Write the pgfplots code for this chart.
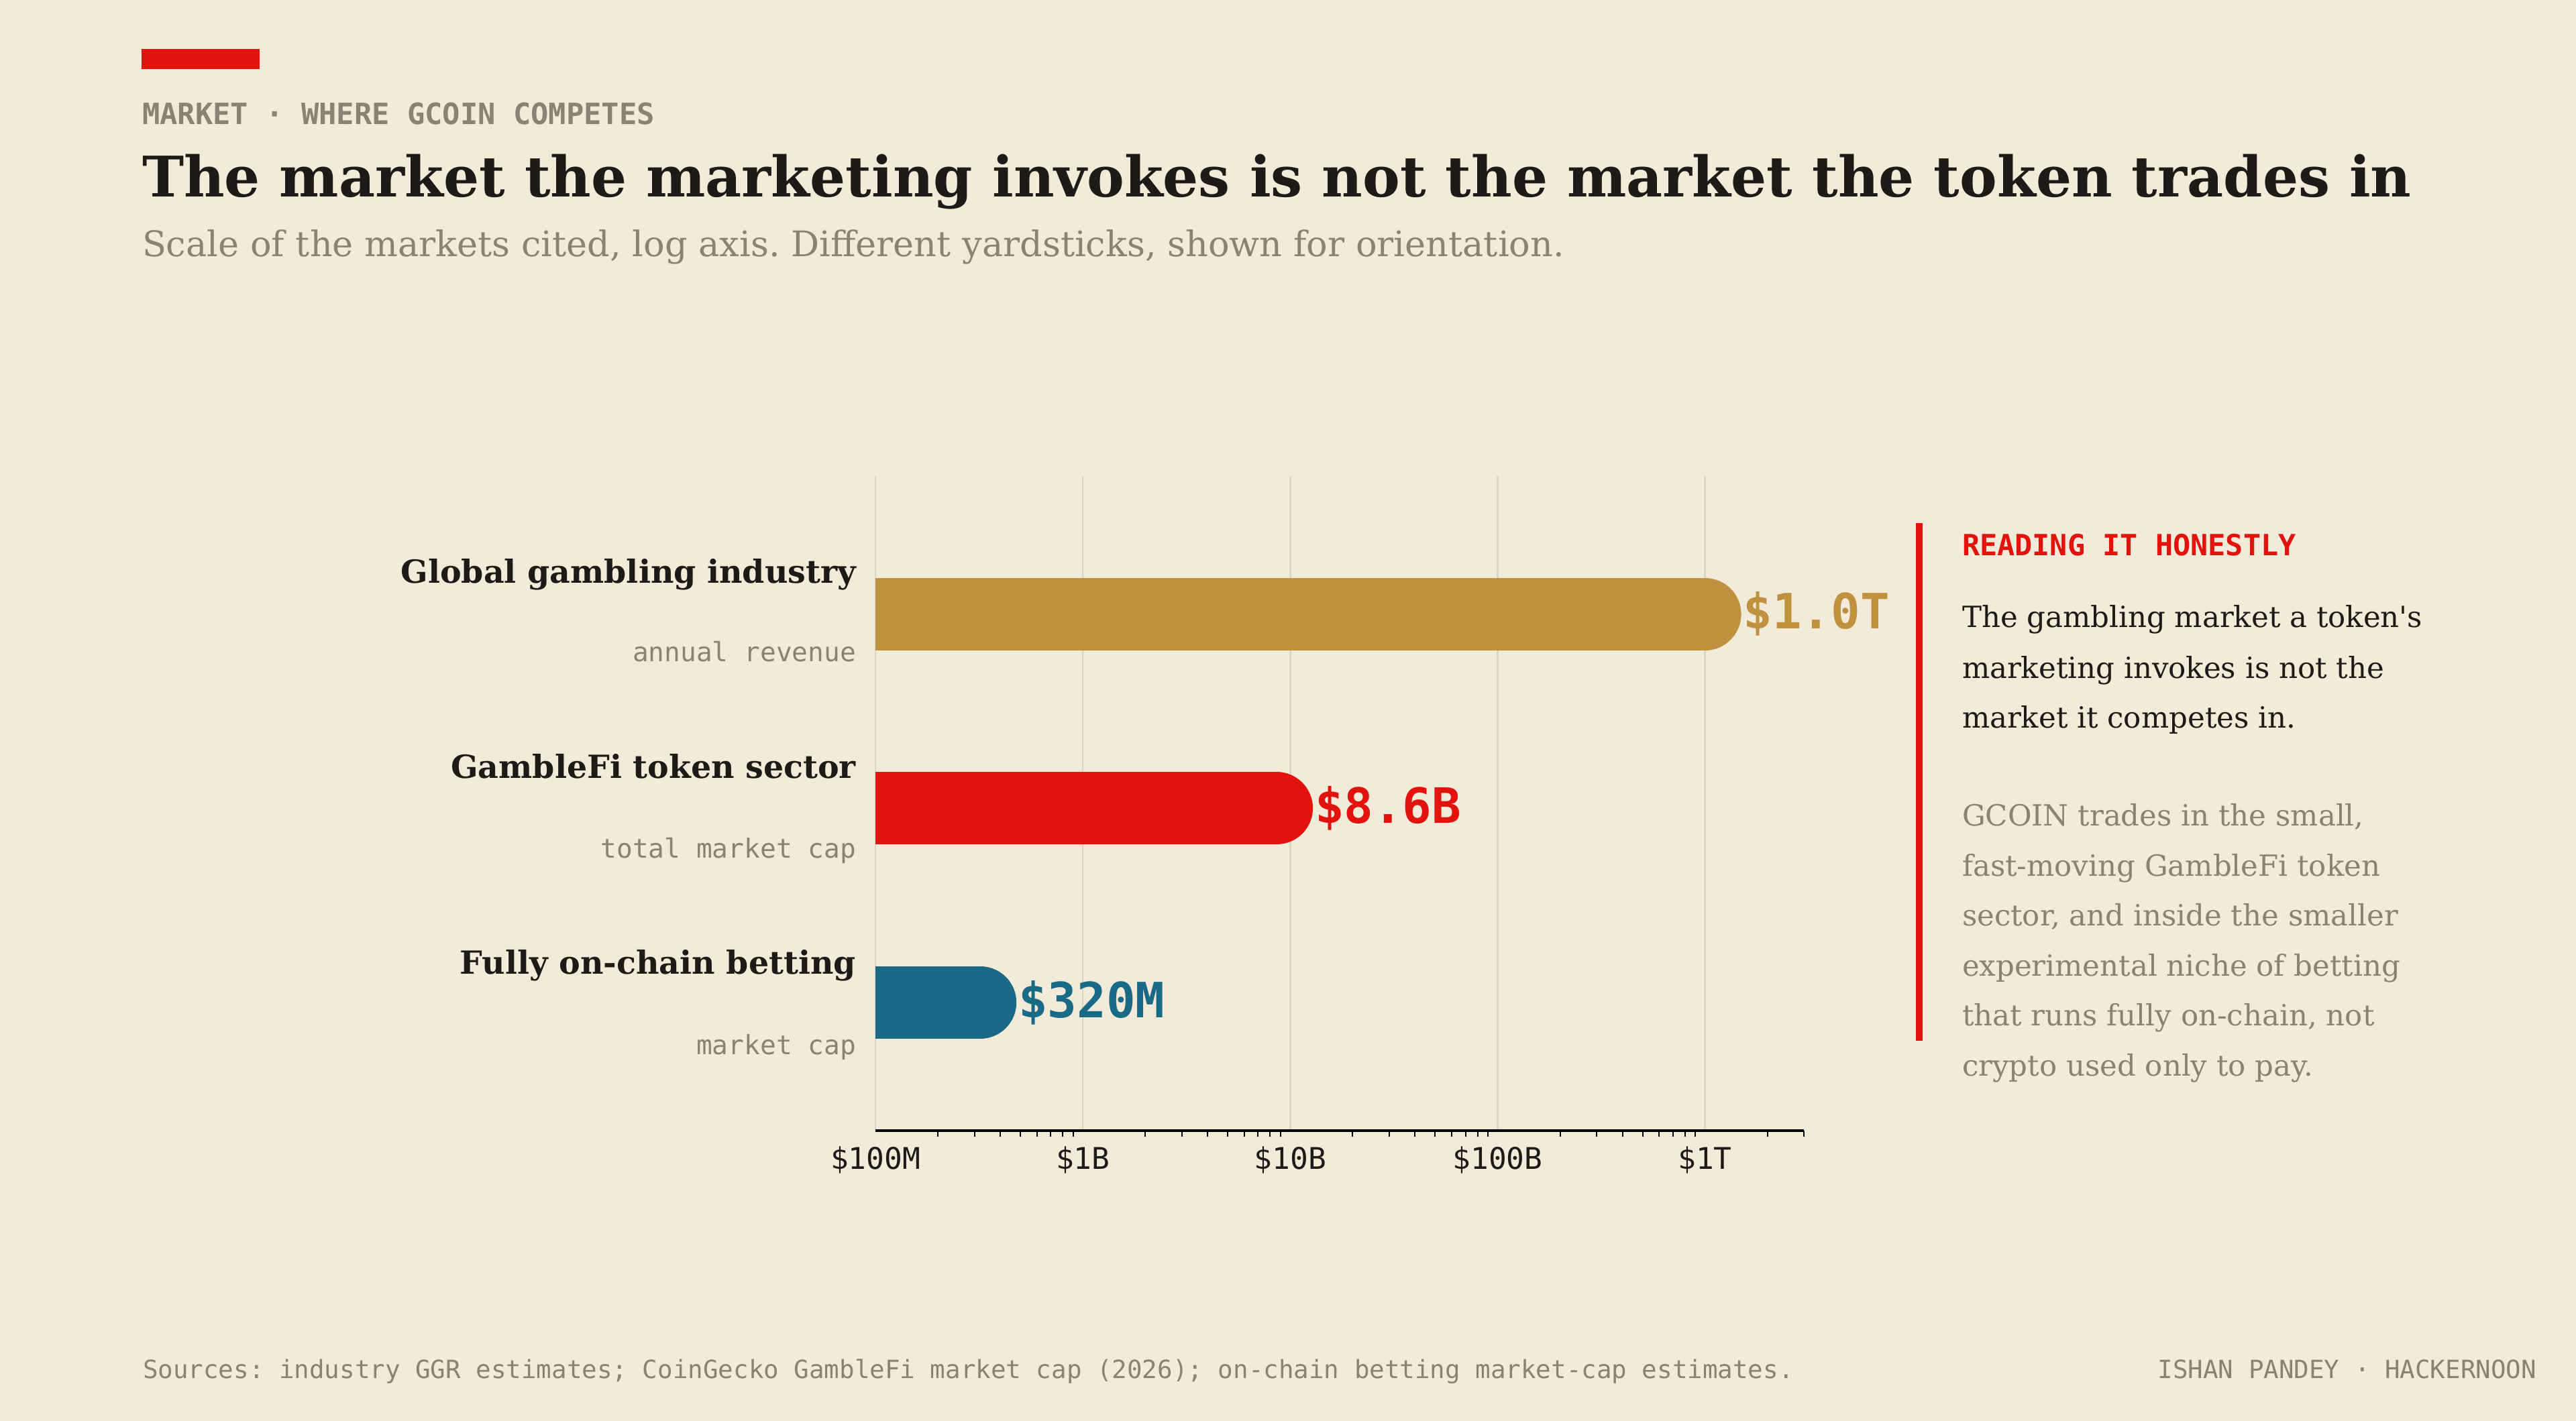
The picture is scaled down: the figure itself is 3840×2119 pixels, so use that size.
\documentclass[border=0pt]{standalone}
\usepackage{pgfplots}
\pgfplotsset{compat=1.18}
\usepackage{fontspec}
\setmainfont{DejaVu Serif}
\newfontfamily\mono{DejaVu Sans Mono}

\definecolor{bg}{HTML}{F3EBDA}
\definecolor{ink}{HTML}{1F1A16}
\definecolor{muted}{HTML}{8C8274}
\definecolor{gridc}{HTML}{DCD4C4}
\definecolor{accent}{HTML}{E2120C}
\definecolor{gold}{HTML}{C0913F}
\definecolor{teal}{HTML}{186A86}

\newcommand{\fs}[1]{\fontsize{#1}{#1}\selectfont}
\frenchspacing

\begin{document}
\begin{tikzpicture}[x=0.2pt,y=-0.2pt]
% canvas (1 unit = one pixel of the 3840 x 2119 layout)
\fill[bg] (0,0) rectangle (3840,2119);
\path[use as bounding box] (0,0) rectangle (3840,2119);

% header
\fill[accent] (211,73) rectangle (387,103);
\node[anchor=base west, inner sep=0pt, text=muted, font=\mono\bfseries\fs{8.75}] at (211,185)
  {MARKET · WHERE GCOIN COMPETES};
\node[anchor=base west, inner sep=0pt, text=ink, font=\bfseries\fs{16.7}] at (211,293)
  {The market the marketing invokes is not the market the token trades in};
\node[anchor=base west, inner sep=0pt, text=muted, font=\fs{10.5}] at (211,382)
  {Scale of the markets cited, log axis. Different yardsticks, shown for orientation.};

% chart
\begin{axis}[
  at={(261pt,-337.2pt)}, anchor=south west,
  scale only axis, width=276.8pt, height=195.2pt,
  xmode=log, xmin=1e8, xmax=3e12,
  ymin=0.34, ymax=3.71,
  axis x line*=bottom, axis y line=none,
  x axis line style={draw=black, line width=0.8pt},
  xtick={1e8,1e9,1e10,1e11,1e12},
  xticklabels={\$100M,\$1B,\$10B,\$100B,\$1T},
  minor xtick={2e8,3e8,4e8,5e8,6e8,7e8,8e8,9e8,
               2e9,3e9,4e9,5e9,6e9,7e9,8e9,9e9,
               2e10,3e10,4e10,5e10,6e10,7e10,8e10,9e10,
               2e11,3e11,4e11,5e11,6e11,7e11,8e11,9e11,
               2e12,3e12},
  xmajorgrids,
  major grid style={draw=gridc, line width=0.5pt},
  tick align=outside,
  major tick length=0pt, minor tick length=1.7pt,
  minor tick style={draw=black, line width=0.4pt},
  xticklabel style={font=\mono\fs{8.9}, text=ink, yshift=-1.2pt},
  ytick=\empty,
  clip=true,
]
\addplot[draw=gold, line width=21.6pt, line cap=round] coordinates {(1e8,3) (1.0e12,3)};
\addplot[draw=accent, line width=21.6pt, line cap=round] coordinates {(1e8,2) (8.6e9,2)};
\addplot[draw=teal, line width=21.6pt, line cap=round] coordinates {(1e8,1) (3.2e8,1)};
\coordinate (v3) at (axis cs:1.0e12,3);
\coordinate (v2) at (axis cs:8.6e9,2);
\coordinate (v1) at (axis cs:3.2e8,1);
\end{axis}

% value labels, just past the rounded bar ends
\node[anchor=west, inner sep=0pt, text=gold, font=\mono\bfseries\fs{14.5}] at ([xshift=11.2pt]v3) {\$1.0T};
\node[anchor=west, inner sep=0pt, text=accent, font=\mono\bfseries\fs{14.5}] at ([xshift=11.2pt]v2) {\$8.6B};
\node[anchor=west, inner sep=0pt, text=teal, font=\mono\bfseries\fs{14.5}] at ([xshift=11.2pt]v1) {\$320M};

% category labels
\node[anchor=base east, inner sep=0pt, text=ink, font=\bfseries\fs{9.5}] at (1277,869) {Global gambling industry};
\node[anchor=base east, inner sep=0pt, text=muted, font=\mono\fs{7.9}] at (1277,986) {annual revenue};
\node[anchor=base east, inner sep=0pt, text=ink, font=\bfseries\fs{9.5}] at (1277,1160) {GambleFi token sector};
\node[anchor=base east, inner sep=0pt, text=muted, font=\mono\fs{7.9}] at (1277,1279) {total market cap};
\node[anchor=base east, inner sep=0pt, text=ink, font=\bfseries\fs{9.5}] at (1277,1452) {Fully on-chain betting};
\node[anchor=base east, inner sep=0pt, text=muted, font=\mono\fs{7.9}] at (1277,1572) {market cap};

% side note
\fill[accent] (2856,780) rectangle (2866,1552);
\node[anchor=base west, inner sep=0pt, text=accent, font=\mono\bfseries\fs{8.7}] at (2924,828) {READING IT HONESTLY};
\begin{scope}[every node/.style={anchor=base west, inner sep=0pt, font=\fs{8.7}}]
\node[text=ink] at (2924,935) {The gambling market a token\textquotesingle s};
\node[text=ink] at (2924,1011) {marketing invokes is not the};
\node[text=ink] at (2924,1085) {market it competes in.};
\node[text=muted] at (2924,1231) {GCOIN trades in the small,};
\node[text=muted] at (2924,1306) {fast-moving GambleFi token};
\node[text=muted] at (2924,1380) {sector, and inside the smaller};
\node[text=muted] at (2924,1455) {experimental niche of betting};
\node[text=muted] at (2924,1529) {that runs fully on-chain, not};
\node[text=muted] at (2924,1604) {crypto used only to pay.};
\end{scope}

% footer
\node[anchor=base west, inner sep=0pt, text=muted, font=\mono\fs{7.5}] at (212,2055)
  {Sources: industry GGR estimates; CoinGecko GambleFi market cap (2026); on-chain betting market-cap estimates.};
\node[anchor=base east, inner sep=0pt, text=muted, font=\mono\fs{7.5}] at (3782,2055)
  {ISHAN PANDEY · HACKERNOON};
\end{tikzpicture}
\end{document}
